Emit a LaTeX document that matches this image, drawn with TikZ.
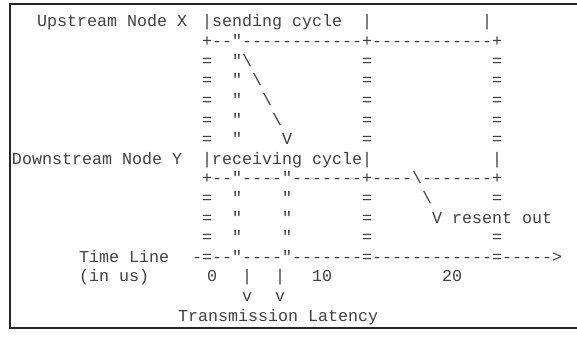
\documentclass[tikz,border=0pt]{standalone}
\usepackage{fontspec}
\setmonofont{Liberation Mono}[Ligatures=TeXOff]
\usetikzlibrary{calc}
\colorlet{InkColor}{black!75}
\newcommand{\Ascii}[4]%
% node name, column, row, text
{	\node[ascii] (#1) at ({12+10*(#2)},{27+19.6*(#3)}) {#4};
}

\begin{document}
\begin{tikzpicture}[x=1pt,y=-1pt,
	ascii/.style={anchor=base west,inner sep=0pt,outer sep=0pt,text=InkColor,
		font=\ttfamily\fontsize{16.67}{16.67}\selectfont}]
			\useasboundingbox (0,0) rectangle (577,337);
			\fill[white] (0,0) rectangle (577,337);
			\draw[black!85,line width=1.5pt] (577,4) -- (10,4) -- (10,328) -- (577,328);
			% sending node
			\Ascii{upX}{2.5}{0}{Upstream Node X}
			\Ascii{sendCyc}{19}{0}{|sending cycle~~|}
			\Ascii{sendEnd}{47}{0}{|}
			\Ascii{sendBar}{19}{1}{+--"------------+------------+}
\foreach \r in {2,...,6}
{\Ascii{sL\r}{19}{\r}{=}
 \Ascii{sQ\r}{22}{\r}{"}
 \Ascii{sM\r}{35}{\r}{=}
 \Ascii{sR\r}{48}{\r}{=}}
\foreach \r in {2,...,5}
{\Ascii{sSl\r}{21+\r}{\r}{\textbackslash}}
			\Ascii{sArr}{27}{6}{V}
			% receiving node
			\Ascii{downY}{0}{7}{Downstream Node Y}
			\Ascii{recvCyc}{19}{7}{|receiving cycle|}
			\Ascii{recvEnd}{48}{7}{|}
			\Ascii{recvBar}{19}{8}{+--"----"-------+----\textbackslash-------+}
\foreach \r in {9,...,11}
{\Ascii{rL\r}{19}{\r}{=}
 \Ascii{rQa\r}{22}{\r}{"}
 \Ascii{rQb\r}{27}{\r}{"}
 \Ascii{rM\r}{35}{\r}{=}}
			\Ascii{rSl}{41}{9}{\textbackslash}
			\Ascii{rR9}{48}{9}{=}
			\Ascii{resent}{42}{10}{V resent out}
			\Ascii{rR11}{48}{11}{=}
			% time line
			\Ascii{timeLbl}{6.7}{12}{Time Line}
			\Ascii{timeAx}{18}{12}{-=--"----"-------=------------=----->}
			\Ascii{unitLbl}{6.7}{13}{(in us)}
			\Ascii{tZero}{19.5}{13}{0}
			\Ascii{tBarA}{23}{13}{|}
			\Ascii{tBarB}{26.3}{13}{|}
			\Ascii{tTen}{30}{13}{10}
			\Ascii{tTwenty}{43}{13}{20}
			\Ascii{tTipA}{23}{14}{v}
			\Ascii{tTipB}{26.3}{14}{v}
			\Ascii{latency}{16.6}{15}{Transmission Latency}
		\end{tikzpicture}
\end{document}
